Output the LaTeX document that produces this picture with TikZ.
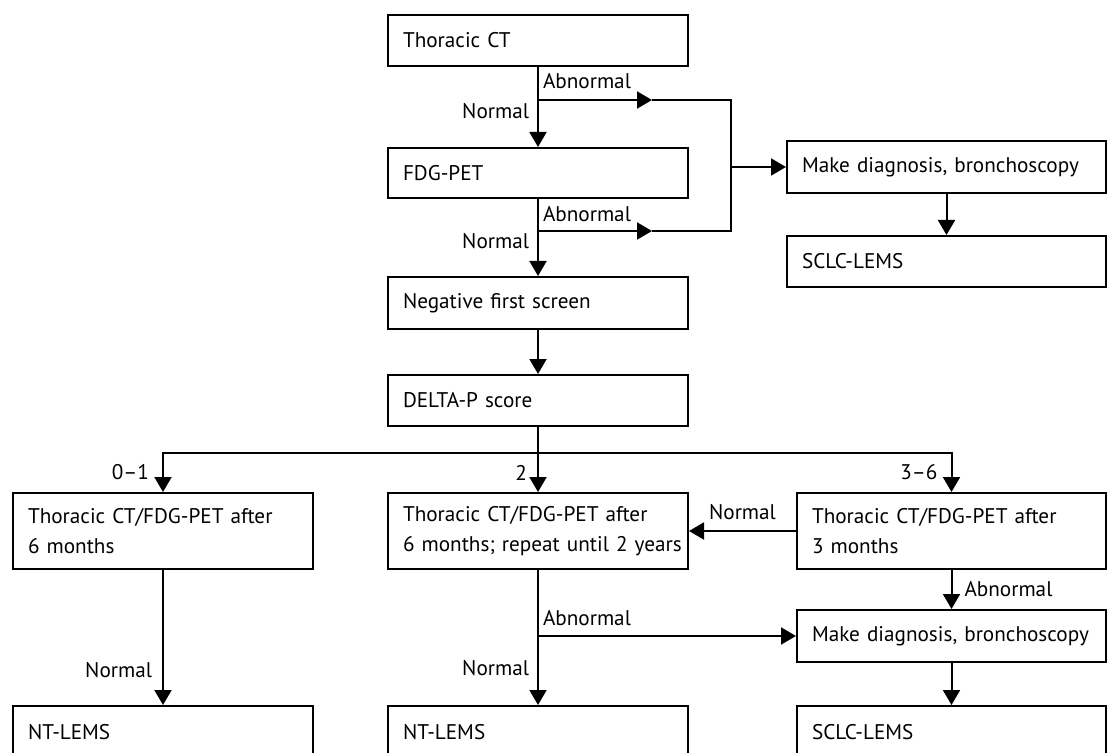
\documentclass[tikz,border=0pt]{standalone}
\usepackage{fontspec}
\setmainfont{PT Sans}
\usetikzlibrary{arrows.meta}

\tikzset{
	box/.style={draw, line width=1pt, anchor=north west, align=left, inner xsep=7.5pt, text width=#1},
	box/.default=135pt,
	lbl/.style={inner sep=2pt},
	arr/.style={line width=1pt, -{Triangle[length=7.5pt,width=8.5pt]}}
}

\begin{document}
\begin{tikzpicture}[x=0.5pt, y=-0.5pt, font=\fontsize{10.6}{15}\selectfont]
	\useasboundingbox (0,0) rectangle (1107,753);
	% first screen
	\node[box, minimum height=25.5pt] (ct) at (387,14) {Thoracic CT};
	\node[box, minimum height=25pt] (pet) at (387,147) {FDG-PET};
	\node[box, minimum height=26pt] (neg) at (387,276) {Negative first screen};
	\node[box, minimum height=25.5pt] (delta) at (387,374) {DELTA-P score};
	\node[box=144.5pt, minimum height=26pt] (diagA) at (786,140) {Make diagnosis, bronchoscopy};
	\node[box=144.5pt, minimum height=25.5pt] (sclcA) at (786,235) {SCLC-LEMS};
	% follow-up by score
	\node[box, minimum height=38pt] (lowA) at (12,492) {Thoracic CT/FDG-PET after\\6 months};
	\node[box, minimum height=38pt] (lowB) at (387,492) {Thoracic CT/FDG-PET after\\\mbox{6 months; repeat until 2 years}};
	\node[box=139.5pt, minimum height=38pt] (lowC) at (796,492) {Thoracic CT/FDG-PET after\\3 months};
	\node[box=139.5pt, minimum height=26pt] (diagB) at (796,609) {\mbox{Make diagnosis, bronchoscopy}};
	\node[box, minimum height=26pt] (ntA) at (12,705) {NT-LEMS};
	\node[box, minimum height=26pt] (ntB) at (387,705) {NT-LEMS};
	\node[box=139.5pt, minimum height=26pt] (sclcB) at (796,705) {SCLC-LEMS};

	\coordinate (jA) at (ct.south |- 0,100);
	\coordinate (jB) at (pet.south |- 0,231);
	\coordinate (tipA) at (652,100);
	\coordinate (tipB) at (652,231);
	\coordinate (mA) at (731,100);
	\coordinate (mB) at (731,231);
	\coordinate (mM) at (mA |- diagA.west);
	\coordinate (split) at (delta.south |- 0,453);
	\coordinate (jC) at (lowB.south |- diagB.west);

	\draw[arr] (ct) -- node[lbl, left, pos=0.55, xshift=-2pt] {Normal} (pet);
	\draw[arr] (pet) -- node[lbl, left, pos=0.55, xshift=-2pt] {Normal} (neg);
	\draw[arr] (jA) -- node[lbl, anchor=south west, pos=0, yshift=3pt] {Abnormal} (tipA);
	\draw[arr] (jB) -- node[lbl, anchor=south west, pos=0, yshift=2pt] {Abnormal} (tipB);
	\draw[line width=1pt] (tipA) -- (mA) -- (mB) -- (tipB);
	\draw[arr] (mM) -- (diagA);
	\draw[arr] (diagA) -- (sclcA);
	\draw[arr] (neg) -- (delta);

	\draw[line width=1pt] (delta) -- (split);
	\draw[arr] (split) -| node[lbl, left, pos=0.75, xshift=-4.5pt] {0--1} (lowA.north);
	\draw[arr] (split) -- node[lbl, left, pos=0.5, xshift=-3pt] {2} (lowB);
	\draw[arr] (split) -| node[lbl, left, pos=0.75, xshift=-4.5pt] {3--6} (lowC.north);

	\draw[arr] (lowA) -- node[lbl, left, pos=0.74, xshift=-3pt] {Normal} (ntA);
	\draw[arr] (lowB) -- node[lbl, left, pos=0.73, xshift=-2pt] {Normal} (ntB);
	\draw[arr] (jC) -- node[lbl, anchor=south west, pos=0, yshift=2.5pt] {Abnormal} (diagB);
	\draw[arr] (lowC.west) -- node[lbl, above, yshift=3pt] {Normal} (lowC.west -| lowB.east);
	\draw[arr] (lowC) -- node[lbl, right, xshift=4pt] {Abnormal} (diagB);
	\draw[arr] (diagB) -- (sclcB);
\end{tikzpicture}
\end{document}
